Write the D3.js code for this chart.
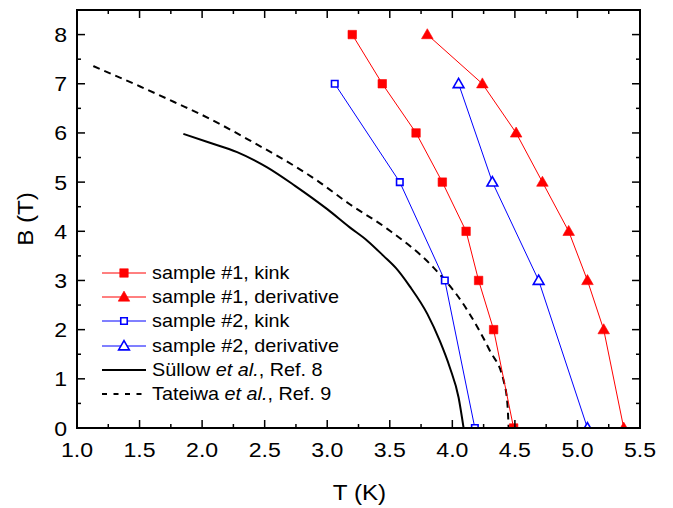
<!DOCTYPE html>
<html>
<head>
<meta charset="utf-8">
<script src="https://cdn.jsdelivr.net/npm/d3@7"></script>
<style>
  body { margin: 0; background: #fff; }
  text { font-family: "Liberation Sans", Arial, sans-serif; }
</style>
</head>
<body>
<div id="chart"></div>
<script>
// field values (B in tesla)
var fields = [8, 7, 6, 5, 4, 3, 2, 0];
var s1KinkT = [3.2, 3.44, 3.71, 3.92, 4.11, 4.21, 4.33, 4.49];
var s1DerivT = [3.80, 4.24, 4.51, 4.72, 4.93, 5.08, 5.21, 5.37];
var s2Fields = [7, 5, 3, 0];
var s2KinkT = [3.06, 3.58, 3.94, 4.18];
var s2DerivT = [4.05, 4.32, 4.69, 5.08];

// literature curves
var sullowT = [1.85, 2.05, 2.28, 2.52, 2.74, 3.0, 3.18, 3.32, 3.45, 3.55, 3.66, 3.80, 3.90, 3.98, 4.05, 4.09];
var sullowB = [5.98, 5.81, 5.61, 5.30, 4.93, 4.45, 4.08, 3.81, 3.50, 3.25, 2.88, 2.32, 1.77, 1.23, 0.62, 0];
var tateiwaT = [1.13, 1.5, 1.81, 1.98, 2.38, 2.92, 3.18, 3.48, 3.85, 4.08, 4.30, 4.41, 4.44, 4.45];
var tateiwaB = [7.36, 6.95, 6.59, 6.39, 5.85, 5.03, 4.55, 4.05, 3.26, 2.55, 1.57, 0.96, 0.5, 0];

var xTicks = [1.0, 1.5, 2.0, 2.5, 3.0, 3.5, 4.0, 4.5, 5.0, 5.5];
var yTicks = [0, 1, 2, 3, 4, 5, 6, 7, 8];

var width = 673, height = 508;
var margin = {top: 10, right: 33, bottom: 80, left: 77};
var stretch = 1.1; // the original text is set a bit wide

var svg = d3.select("#chart").append("svg")
  .attr("width", width)
  .attr("height", height);

var x = d3.scaleLinear().domain([1.0, 5.5]).range([margin.left, width - margin.right]);
var y = d3.scaleLinear().domain([0, 8.5]).range([height - margin.bottom, margin.top]);

svg.append("clipPath").attr("id", "plot-clip")
  .append("rect")
  .attr("x", margin.left).attr("y", margin.top)
  .attr("width", width - margin.left - margin.right)
  .attr("height", height - margin.top - margin.bottom);

var plot = svg.append("g").attr("clip-path", "url(#plot-clip)");

var line = d3.line().x(function(d) { return x(d[0]); }).y(function(d) { return y(d[1]); });
var smooth = d3.line().curve(d3.curveMonotoneX).x(function(d) { return x(d[0]); }).y(function(d) { return y(d[1]); });

function pairs(ts, bs) {
  return ts.map(function(t, i) { return [t, bs[i]]; });
}

// text helper with horizontal stretch
function label(g, tx, ty, size, anchor, rot) {
  return g.append("text")
    .attr("transform", "translate(" + tx + "," + ty + ")" + (rot ? " rotate(" + rot + ")" : "") + " scale(" + stretch + ",1)")
    .attr("font-size", size)
    .attr("text-anchor", anchor || "start");
}

// literature curves
plot.append("path")
  .attr("d", smooth(pairs(sullowT, sullowB)))
  .attr("fill", "none").attr("stroke", "#000").attr("stroke-width", 2);
plot.append("path")
  .attr("d", smooth(pairs(tateiwaT, tateiwaB)))
  .attr("fill", "none").attr("stroke", "#000").attr("stroke-width", 2)
  .attr("stroke-dasharray", "7,5");

var series = [
  {name: "sample #1, kink", data: pairs(s1KinkT, fields), color: "#ff0000", shape: "square", fill: true},
  {name: "sample #1, derivative", data: pairs(s1DerivT, fields), color: "#ff0000", shape: "triangle", fill: true},
  {name: "sample #2, kink", data: pairs(s2KinkT, s2Fields), color: "#0000ff", shape: "square", fill: false},
  {name: "sample #2, derivative", data: pairs(s2DerivT, s2Fields), color: "#0000ff", shape: "triangle", fill: false}
];

function drawMarker(g, s, cx, cy) {
  var sym = s.shape == "square" ? d3.symbolSquare : d3.symbolTriangle;
  var size = s.fill ? (s.shape == "square" ? 72 : 58) : (s.shape == "square" ? 42 : 50);
  g.append("path")
    .attr("d", d3.symbol().type(sym).size(size)())
    .attr("transform", "translate(" + cx + "," + (cy + (s.shape == "triangle" ? 0.8 : 0)) + ")")
    .attr("fill", s.fill ? s.color : "#fff")
    .attr("stroke", s.color)
    .attr("stroke-width", s.fill ? 0.6 : 1.6);
}

series.forEach(function(s) {
  plot.append("path")
    .attr("d", line(s.data))
    .attr("fill", "none").attr("stroke", s.color).attr("stroke-width", 1);
  s.data.forEach(function(d) { drawMarker(plot, s, x(d[0]), y(d[1])); });
});

// frame and ticks
var x0 = margin.left, x1 = width - margin.right, y0 = height - margin.bottom, y1 = margin.top;
var axes = svg.append("g").attr("stroke", "#000").attr("stroke-width", 1.5);

d3.range(1.0, 5.5001, 0.25).forEach(function(v) {
  var major = Math.abs(v * 2 - Math.round(v * 2)) < 1e-6;
  var len = major ? 8 : 4;
  axes.append("line").attr("x1", x(v)).attr("x2", x(v)).attr("y1", y0).attr("y2", y0 - len);
  axes.append("line").attr("x1", x(v)).attr("x2", x(v)).attr("y1", y1).attr("y2", y1 + len);
});
d3.range(0, 8.5001, 0.5).forEach(function(v) {
  var major = Math.abs(v - Math.round(v)) < 1e-6;
  var len = major ? 8 : 4;
  axes.append("line").attr("x1", x0).attr("x2", x0 + len).attr("y1", y(v)).attr("y2", y(v));
  axes.append("line").attr("x1", x1).attr("x2", x1 - len).attr("y1", y(v)).attr("y2", y(v));
});

svg.append("rect")
  .attr("x", x0).attr("y", y1).attr("width", x1 - x0).attr("height", y0 - y1)
  .attr("fill", "none").attr("stroke", "#000").attr("stroke-width", 2);

// tick labels
xTicks.forEach(function(d) {
  label(svg, x(d), y0 + 29, 21, "middle").text(d3.format(".1f")(d));
});
yTicks.forEach(function(d) {
  label(svg, x0 - 10, y(d) + 7.5, 21, "end").text(d);
});

// axis titles
label(svg, (x0 + x1) / 2 + 1, 500, 22, "middle").text("T (K)");
label(svg, 33, (y0 + y1) / 2, 22, "middle", -90).text("B (T)");

// legend
var legend = svg.append("g");
var rowY = [273, 297, 321, 346, 370, 394];
series.forEach(function(s, i) {
  legend.append("line")
    .attr("x1", 102).attr("x2", 146).attr("y1", rowY[i]).attr("y2", rowY[i])
    .attr("stroke", s.color).attr("stroke-width", 1);
  drawMarker(legend, s, 124, rowY[i]);
  label(legend, 152, rowY[i] + 6.3, 18).text(s.name);
});

legend.append("line")
  .attr("x1", 102).attr("x2", 146).attr("y1", rowY[4]).attr("y2", rowY[4])
  .attr("stroke", "#000").attr("stroke-width", 2);
var t1 = label(legend, 152, rowY[4] + 6.3, 18);
t1.append("tspan").text("Süllow ");
t1.append("tspan").attr("font-style", "italic").text("et al.");
t1.append("tspan").text(", Ref. 8");

legend.append("line")
  .attr("x1", 102).attr("x2", 146).attr("y1", rowY[5]).attr("y2", rowY[5])
  .attr("stroke", "#000").attr("stroke-width", 2)
  .attr("stroke-dasharray", "5,6.5");
var t2 = label(legend, 152, rowY[5] + 6.3, 18);
t2.append("tspan").text("Tateiwa ");
t2.append("tspan").attr("font-style", "italic").text("et al.");
t2.append("tspan").text(", Ref. 9");
</script>
</body>
</html>
